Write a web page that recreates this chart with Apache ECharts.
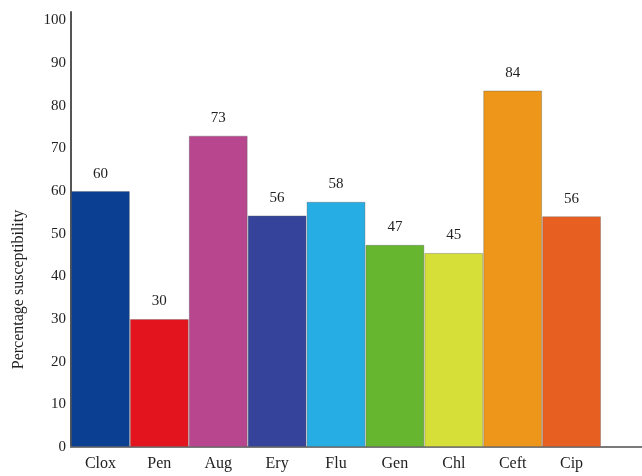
<!DOCTYPE html>
<html>
<head>
<meta charset="utf-8">
<script src="https://cdn.jsdelivr.net/npm/echarts@6/dist/echarts.min.js"></script>
<style>html,body{margin:0;padding:0;background:#fff}#c{width:642px;height:476px}</style>
</head>
<body>
<div id="c"></div>
<script>
const categories = ['Clox', 'Pen', 'Aug', 'Ery', 'Flu', 'Gen', 'Chl', 'Ceft', 'Cip'];
const barHeights = [60, 30, 73, 54.3, 57.5, 47.4, 45.5, 83.6, 54.1];
const barLabels = ['60', '30', '73', '56', '58', '47', '45', '84', '56'];
const barColors = ['#0a3f92', '#e3141e', '#b8468f', '#35449a', '#26ade3', '#66b72f', '#d5df38', '#ed9619', '#e85f22'];

const chart = echarts.init(document.getElementById('c'), null, {renderer: 'canvas'});
const serif = 'Liberation Serif';
chart.setOption({
  animation: false,
  backgroundColor: '#fff',
  grid: {left: 71, right: 41, top: 12, bottom: 29, containLabel: false, outerBoundsMode: 'none'},
  xAxis: {
    type: 'category',
    data: categories,
    axisLine: {show: true, lineStyle: {color: '#7a7a7a', width: 2}},
    axisTick: {show: false},
    axisLabel: {color: '#222', fontFamily: serif, fontSize: 16, margin: 9}
  },
  yAxis: {
    type: 'value',
    min: 0, max: 102, interval: 10,
    name: 'Percentage susceptibility',
    nameLocation: 'middle',
    nameGap: 44,
    nameTextStyle: {color: '#222', fontFamily: serif, fontSize: 16, padding: [0, 120, 0, 0]},
    splitLine: {show: false},
    axisTick: {show: false},
    axisLine: {show: true, lineStyle: {color: '#555', width: 2}},
    axisLabel: {
      color: '#222', fontFamily: serif, fontSize: 15, margin: 5,
      formatter: v => (v % 10 === 0 ? String(v) : '')
    }
  },
  series: [{
    type: 'bar',
    barCategoryGap: 0,
    data: barHeights.map((v, i) => ({value: v, itemStyle: {color: barColors[i]}})),
    itemStyle: {borderColor: 'rgba(90,90,90,0.35)', borderWidth: 1},
    label: {
      show: true, position: 'top', distance: 10,
      color: '#222', fontFamily: serif, fontSize: 15,
      formatter: p => barLabels[p.dataIndex]
    }
  }]
});
const yZero = chart.convertToPixel({yAxisIndex: 0}, 0);
const xEnd = 642 - 41;
chart.setOption({
  graphic: [{
    type: 'line',
    shape: {x1: xEnd, y1: yZero, x2: 642, y2: yZero},
    style: {stroke: '#7a7a7a', lineWidth: 2},
    z: 10
  }]
});
</script>
</body>
</html>
